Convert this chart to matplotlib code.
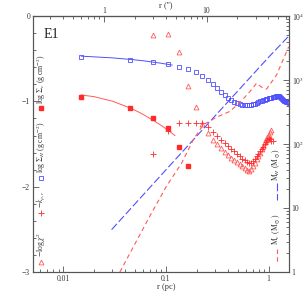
import numpy as np
import matplotlib
matplotlib.use("Agg")
import matplotlib.pyplot as plt
from matplotlib.ticker import FixedLocator, LogLocator, NullFormatter, MultipleLocator

plt.rcParams['font.family'] = ['Liberation Serif', 'DejaVu Serif']
plt.rcParams['mathtext.fontset'] = 'stix'

# radius grid of the profiles (pc)
r_prof = [0.015, 0.045, 0.075, 0.105, 0.135, 0.165, 0.195, 0.225, 0.255, 0.285,
          0.315, 0.345, 0.375, 0.405, 0.435, 0.465, 0.495, 0.525, 0.555, 0.585,
          0.615, 0.645, 0.675, 0.705, 0.735, 0.765, 0.795, 0.825, 0.855, 0.885,
          0.915, 0.945, 0.975, 1.005, 1.035, 1.065, 1.095, 1.125, 1.155, 1.185,
          1.215, 1.245, 1.275, 1.305, 1.335, 1.365, 1.395, 1.425, 1.455, 1.485,
          1.515, 1.545, 1.575]

# log Sigma_H (blue open squares)
sig_h = [-0.477, -0.516, -0.539, -0.562, -0.598, -0.621, -0.660, -0.703, -0.750, -0.797,
         -0.842, -0.886, -0.925, -0.960, -0.988, -1.010, -1.024, -1.034, -1.041, -1.046,
         -1.048, -1.046, -1.040, -1.033, -1.025, -1.016, -1.008, -1.000, -0.993, -0.986,
         -0.980, -0.974, -0.969, -0.965, -0.961, -0.957, -0.953, -0.948, -0.943, -0.938,
         -0.935, -0.935, -0.940, -0.950, -0.962, -0.975, -0.986, -0.994, -1.000, -1.005,
         -1.009, -1.012, -1.015]

# log Sigma_c (red filled squares)
r_core = [0.015, 0.045, 0.075, 0.105, 0.135, 0.165]
sig_c = [-0.951, -1.079, -1.195, -1.312, -1.540, -1.755]

# -log chi^2 (red triangles)
r_chi = [0.075, 0.105, 0.135, 0.165, 0.195, 0.225, 0.255, 0.285, 0.315, 0.345,
         0.375, 0.405, 0.435, 0.465, 0.495, 0.525, 0.555, 0.585, 0.615, 0.645,
         0.675, 0.705, 0.735, 0.765, 0.795, 0.825, 0.855, 0.885, 0.915, 0.945,
         0.975, 1.005, 1.035, 1.065]
chi = [-0.22, -0.21, -0.42, -0.82, -1.07, -1.26, -1.37, -1.45, -1.505, -1.55,
       -1.59, -1.63, -1.66, -1.69, -1.71, -1.73, -1.755, -1.78, -1.80, -1.81,
       -1.79, -1.76, -1.72, -1.68, -1.64, -1.60, -1.56, -1.52, -1.48, -1.45,
       -1.42, -1.39, -1.36, -1.34]

# -k_rho (red plus)
r_k = [0.075, 0.105, 0.135, 0.165, 0.195, 0.225, 0.255, 0.285, 0.315, 0.345,
       0.375, 0.405, 0.435, 0.465, 0.495, 0.525, 0.555, 0.585, 0.615, 0.645,
       0.675, 0.705, 0.735, 0.765, 0.795, 0.825, 0.855, 0.885, 0.915, 0.945,
       0.975, 1.005, 1.035, 1.065, 1.095]
kval = [-1.62, -1.345, -1.255, -1.255, -1.255, -1.255, -1.30, -1.36, -1.41, -1.455,
        -1.49, -1.52, -1.555, -1.585, -1.615, -1.645, -1.67, -1.69, -1.71, -1.725,
        -1.72, -1.70, -1.675, -1.645, -1.615, -1.585, -1.555, -1.53, -1.50, -1.475,
        -1.45, -1.43, -1.44, -1.46, -1.47]

# fitted curves
r_fit_h = [0.015, 0.03, 0.045, 0.06, 0.075, 0.09, 0.115]
fit_h = [-0.470, -0.490, -0.508, -0.524, -0.540, -0.553, -0.575]
r_fit_c = [0.015, 0.02, 0.03, 0.045, 0.056, 0.075, 0.09, 0.105, 0.1225]
fit_c = [-0.925, -0.945, -0.997, -1.078, -1.133, -1.22, -1.282, -1.339, -1.40]

# enclosed masses (Msun, right axis)
r_mh = [0.0296, 0.1, 0.3, 1.0, 1.58]
mass_h = [4.6, 39.5, 273, 2270, 4900]
r_mc = [0.0356, 0.0698, 0.1014, 0.142, 0.185, 0.231, 0.312, 0.42, 0.526,
        0.658, 0.764, 0.855, 0.957, 1.197, 1.567]
mass_c = [1.0, 7.5, 22, 50, 117, 200, 263, 324, 447, 660, 890, 776, 724, 1200, 3300]

PC_PER_ARCSEC = 0.0249

blue = '#4f4fff'
red = '#ff2a2a'
lred = '#ff5a5a'
frame = '#555555'
txt = '#333333'

fig = plt.figure(figsize=(3.05, 3.05), dpi=100)
ax = fig.add_axes([0.108, 0.108, 0.8394, 0.8394])
ax2 = ax.twinx()

ax.set_xscale('log')
ax.set_xlim(0.00507, 1.58)
ax.set_ylim(-3, 0)
ax2.set_yscale('log')
ax2.set_ylim(1, 1e4)

# profiles
ax.plot(r_fit_h, fit_h, color=blue, lw=0.7)
ax.plot(r_fit_c, fit_c, color=lred, lw=0.7)
ax.plot(r_prof, sig_h, ls='none', marker='s', ms=3, mfc='none', mec=blue, mew=0.6)
ax.plot(r_core, sig_c, ls='none', marker='s', ms=3, color=red, mec=red)
ax.plot(r_chi, chi, ls='none', marker='^', ms=3.5, mfc='none', mec=lred, mew=0.6)
ax.plot(r_k, kval, ls='none', marker='+', ms=4.5, color=red, mew=0.6)

# masses
ax2.plot(r_mh, mass_h, color=blue, lw=0.8, dashes=(7, 2.5))
ax2.plot(r_mc, mass_c, color=lred, lw=0.8, dashes=(4, 3))

# ticks
for a in (ax, ax2):
    for s in a.spines.values():
        s.set_color(frame)
        s.set_linewidth(0.8)
ax.tick_params(which='both', direction='in', colors=frame, labelcolor=txt,
               labelsize=5.5, top=False, right=False, width=0.6)
ax.tick_params(which='major', length=4, pad=2)
ax.tick_params(which='minor', length=2)
ax.set_yticks([-3, -2, -1, 0])
ax.set_yticklabels(['\u22123', '\u22122', '\u22121', '0'])
ax.yaxis.set_minor_locator(MultipleLocator(0.2))
ax.set_xticks([0.01, 0.1, 1])
ax.set_xticklabels(['0.01', '0.1', '1'])
ax.xaxis.set_minor_locator(LogLocator(base=10, subs=np.arange(2, 10)))
ax.xaxis.set_minor_formatter(NullFormatter())
ax.text(0.52, -0.058, 'r (pc)', transform=ax.transAxes, fontsize=6, color=txt,
        ha='center', va='center')

ax2.tick_params(which='both', direction='in', colors=frame, labelcolor=txt,
                labelsize=5.5, left=False, width=0.6)
ax2.tick_params(which='major', length=4, pad=2)
ax2.tick_params(which='minor', length=2)
ax2.yaxis.set_major_locator(FixedLocator([1, 10, 100, 1000, 10000]))
ax2.set_yticklabels(['1', '10', '10$^2$', '10$^3$', '10$^4$'])
ax2.yaxis.set_minor_locator(LogLocator(base=10, subs=np.arange(2, 10)))
ax2.yaxis.set_minor_formatter(NullFormatter())

top = ax.secondary_xaxis('top', functions=(lambda x: x / PC_PER_ARCSEC,
                                             lambda x: x * PC_PER_ARCSEC))
top.set_xticks([1, 10])
top.set_xticklabels(['1', '10'])
top.xaxis.set_minor_locator(LogLocator(base=10, subs=np.arange(2, 10)))
top.xaxis.set_minor_formatter(NullFormatter())
top.tick_params(which='both', direction='in', colors=frame, labelcolor=txt,
                labelsize=5.5, width=0.6)
top.tick_params(which='major', length=4, pad=1)
top.tick_params(which='minor', length=2)
top.spines['top'].set_color(frame)
ax.text(0.52, 1.043, "r ('')", transform=ax.transAxes, fontsize=6, color=txt,
        ha='center', va='center')

ax.text(0.04, 0.955, 'E1', transform=ax.transAxes, fontsize=10, va='top', ha='left',
        color='#222222')

# vertical legend on the left
lx = 0.031
ax.plot([lx], [0.639], transform=ax.transAxes, marker='s', ms=3, color=red, clip_on=False)
ax.text(lx, 0.655, r'log $\Sigma_c$ (g cm$^{-2}$)', transform=ax.transAxes, rotation=90,
        ha='center', va='bottom', fontsize=5.5, color=txt)
ax.plot([lx], [0.366], transform=ax.transAxes, marker='s', ms=3, mfc='none', mec=blue,
        mew=0.6, clip_on=False)
ax.text(lx, 0.387, r'log $\Sigma_H$ (g cm$^{-2}$)', transform=ax.transAxes, rotation=90,
        ha='center', va='bottom', fontsize=5.5, color=txt)
ax.plot([lx], [0.232], transform=ax.transAxes, marker='+', ms=4.5, color=red, mew=0.6,
        clip_on=False)
ax.text(lx, 0.252, r'$-k_{\rho,r}$', transform=ax.transAxes, rotation=90,
        ha='center', va='bottom', fontsize=5.5, color=txt)
ax.plot([lx], [0.038], transform=ax.transAxes, marker='^', ms=3.5, mfc='none', mec=lred,
        mew=0.6, clip_on=False)
ax.text(lx, 0.06, r'$-$log $\chi^2$', transform=ax.transAxes, rotation=90,
        ha='center', va='bottom', fontsize=5.5, color=txt)

# vertical legend on the right
rx = 0.952
ax.plot([rx, rx], [0.348, 0.281], transform=ax.transAxes, color=blue, lw=0.8,
        dashes=(7, 2.5))
ax.text(rx, 0.357, r'M$_H$ (M$_\odot$)', transform=ax.transAxes, rotation=90,
        ha='center', va='bottom', fontsize=5.5, color=txt)
ax.plot([rx, rx], [0.09, 0.03], transform=ax.transAxes, color=lred, lw=0.8,
        dashes=(4, 3))
ax.text(rx, 0.105, r'M$_c$ (M$_\odot$)', transform=ax.transAxes, rotation=90,
        ha='center', va='bottom', fontsize=5.5, color=txt)

fig.savefig('out.png', dpi=100)
